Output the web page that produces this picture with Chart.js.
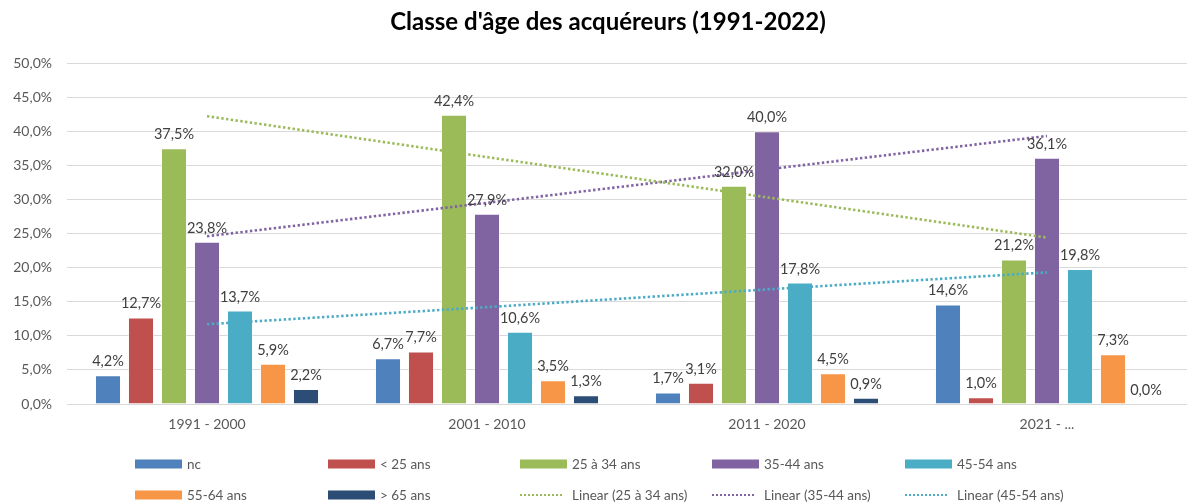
<!DOCTYPE html>
<html>
<head>
<meta charset="utf-8">
<script src="https://cdn.jsdelivr.net/npm/chart.js@4/dist/chart.umd.min.js"></script>
<style>
  html, body { margin: 0; padding: 0; background: #fff; overflow: hidden; }
</style>
</head>
<body>
<canvas id="age_chart" width="1187" height="504"></canvas>
<script>
// periods on the x axis
const periods = ['1991 - 2000', '2001 - 2010', '2011 - 2020', '2021 - ...'];

// share of buyers per age class (%)
const nc = [4.2, 6.7, 1.7, 14.6];
const under25 = [12.7, 7.7, 3.1, 1.0];
const age25to34 = [37.5, 42.4, 32.0, 21.2];
const age35to44 = [23.8, 27.9, 40.0, 36.1];
const age45to54 = [13.7, 10.6, 17.8, 19.8];
const age55to64 = [5.9, 3.5, 4.5, 7.3];
const over65 = [2.2, 1.3, 0.9, 0.0];

// linear trendlines
const trend25to34 = [42.2, 36.2, 30.3, 24.4];
const trend35to44 = [24.6, 29.5, 34.4, 39.3];
const trend45to54 = [11.7, 14.2, 16.8, 19.3];

const yTicks = [0, 5, 10, 15, 20, 25, 30, 35, 40, 45, 50];

const fontName = 'Lato, "Open Sans", sans-serif';
const pct = (v) => v.toFixed(1).replace('.', ',') + '%';

const barSet = (label, data, color) => ({
    type: 'bar',
    label: label,
    data: data,
    backgroundColor: color,
    borderColor: 'rgba(255,255,255,0.5)',
    borderWidth: 1,
    categoryPercentage: 0.825,
    barPercentage: 0.79,
    order: 1
});

const trendSet = (label, data, color) => ({
    type: 'line',
    label: label,
    data: data,
    borderColor: color,
    borderWidth: 2.6,
    borderDash: [2.4, 2.4],
    pointRadius: 0,
    fill: false,
    order: 0
});

// value labels above each bar
const barLabels = {
    id: 'barLabels',
    afterDatasetsDraw(chart) {
        const ctx = chart.ctx;
        ctx.save();
        ctx.font = '14.5px ' + fontName;
        ctx.fillStyle = '#404040';
        ctx.textAlign = 'center';
        ctx.textBaseline = 'alphabetic';
        chart.data.datasets.forEach((ds, i) => {
            if (ds.type !== 'bar') return;
            const meta = chart.getDatasetMeta(i);
            meta.data.forEach((bar, j) => {
                ctx.fillText(pct(ds.data[j]), bar.x, bar.y - 9);
            });
        });
        ctx.restore();
    }
};

// title + Excel-like legend in fixed columns
const decorations = {
    id: 'decorations',
    afterDraw(chart) {
        const ctx = chart.ctx;
        ctx.save();
        ctx.font = 'bold 24px ' + fontName;
        ctx.fillStyle = '#000';
        ctx.textAlign = 'center';
        ctx.textBaseline = 'middle';
        ctx.fillText("Classe d'âge des acquéreurs (1991-2022)", 608, 22);

        const cols = [135, 328, 520, 712, 905];
        const rows = [464, 495];
        ctx.font = '13.5px ' + fontName;
        ctx.textAlign = 'left';
        chart.data.datasets.forEach((ds, i) => {
            const x = cols[i % 5];
            const y = rows[Math.floor(i / 5)];
            if (ds.type === 'bar') {
                ctx.fillStyle = ds.backgroundColor;
                ctx.fillRect(x, y - 4.5, 47, 9);
            } else {
                ctx.strokeStyle = ds.borderColor;
                ctx.lineWidth = 2;
                ctx.setLineDash([2, 2]);
                ctx.beginPath();
                ctx.moveTo(x, y);
                ctx.lineTo(x + 42, y);
                ctx.stroke();
                ctx.setLineDash([]);
            }
            ctx.fillStyle = '#595959';
            ctx.fillText(ds.label, x + 52, y + 1);
        });
        ctx.restore();
    }
};

const ctx = document.querySelector('#age_chart');
const chart = new Chart(ctx, {
    data: {
        labels: periods,
        datasets: [
            barSet('nc', nc, '#4F81BD'),
            barSet('< 25 ans', under25, '#C0504D'),
            barSet('25 à 34 ans', age25to34, '#9BBB59'),
            barSet('35-44 ans', age35to44, '#8064A2'),
            barSet('45-54 ans', age45to54, '#4BACC6'),
            barSet('55-64 ans', age55to64, '#F79646'),
            barSet('> 65 ans', over65, '#2C4D75'),
            trendSet('Linear (25 à 34 ans)', trend25to34, '#9BBB59'),
            trendSet('Linear (35-44 ans)', trend35to44, '#8064A2'),
            trendSet('Linear (45-54 ans)', trend45to54, '#4BACC6')
        ]
    },
    options: {
        responsive: false,
        animation: false,
        layout: { padding: { top: 63, right: 0, bottom: 0, left: 0 } },
        plugins: {
            legend: { display: false },
            title: { display: false },
            tooltip: { enabled: false }
        },
        scales: {
            x: {
                offset: true,
                grid: { display: false, drawTicks: false },
                border: { display: false },
                ticks: {
                    color: '#595959',
                    font: { family: fontName, size: 14 },
                    padding: 12
                },
                afterFit: (s) => { s.height = 100; }
            },
            y: {
                min: 0,
                max: 50,
                afterBuildTicks: (s) => { s.ticks = yTicks.map(v => ({ value: v })); },
                grid: { color: '#d9d9d9', lineWidth: 1, drawTicks: false },
                border: { display: false },
                ticks: {
                    color: '#595959',
                    font: { family: fontName, size: 14 },
                    padding: 15,
                    callback: (v) => pct(v)
                },
                afterFit: (s) => { s.width = 67; }
            }
        }
    },
    plugins: [barLabels, decorations]
});
</script>
</body>
</html>
